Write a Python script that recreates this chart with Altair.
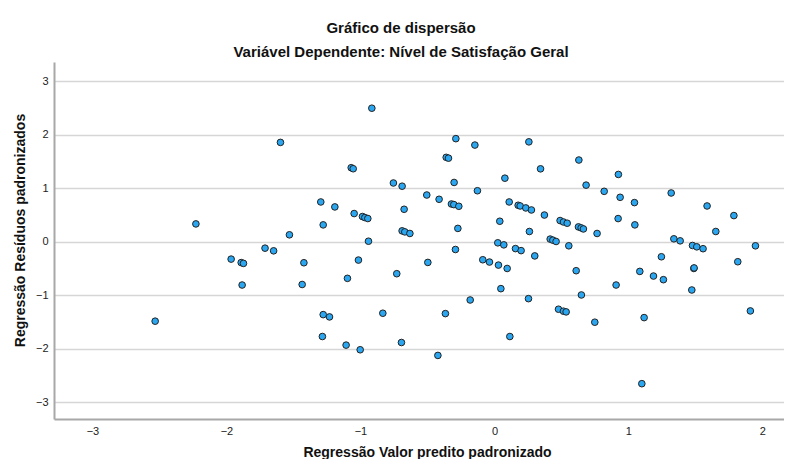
import altair as alt
import pandas as pd

x_vals = [-2.532, -2.228, -1.965, -1.890, -1.873, -1.883, -1.712, -1.648, -1.597, -1.530,
          -1.435, -1.422, -1.296, -1.278, -1.278, -1.231, -1.284, -1.191, -1.107, -1.097,
          -1.069, -1.054, -1.047, -1.015, -1.002, -0.985, -0.967, -0.945, -0.940, -0.915,
          -0.833, -0.754, -0.729, -0.694, -0.689, -0.674, -0.689, -0.669, -0.631, -0.505,
          -0.497, -0.422, -0.413, -0.366, -0.360, -0.343, -0.321, -0.303, -0.301, -0.288,
          -0.291, -0.273, -0.266, -0.181, -0.146, -0.127, -0.087, -0.037, 0.025, 0.030,
          0.040, 0.048, 0.070, 0.078, 0.095, 0.110, 0.115, 0.157, 0.199, 0.177,
          0.192, 0.234, 0.257, 0.254, 0.261, 0.276, 0.301, 0.344, 0.373, 0.416,
          0.436, 0.460, 0.478, 0.490, 0.515, 0.515, 0.535, 0.543, 0.555, 0.610,
          0.627, 0.630, 0.647, 0.649, 0.664, 0.684, 0.749, 0.766, 0.819, 0.908,
          0.923, 0.925, 0.938, 1.045, 1.048, 1.085, 1.100, 1.117, 1.187, 1.246,
          1.261, 1.319, 1.339, 1.386, 1.473, 1.478, 1.488, 1.490, 1.510, 1.557,
          1.587, 1.652, 1.787, 1.816, 1.910, 1.948]

y_vals = [-1.487, 0.334, -0.325, -0.390, -0.405, -0.810, -0.120, -0.170, 1.860, 0.130,
          -0.800, -0.393, 0.745, 0.316, -1.364, -1.407, -1.774, 0.652, -1.935, -0.685,
          1.386, 1.367, 0.528, -0.343, -2.022, 0.472, 0.453, 0.435, 0.010, 2.500,
          -1.338, 1.100, -0.598, -1.886, 1.040, 0.608, 0.204, 0.185, 0.155, 0.875,
          -0.387, -2.128, 0.795, -1.345, 1.580, 1.565, 0.707, 0.696, 1.110, 1.930,
          -0.145, 0.250, 0.664, -1.090, 1.810, 0.955, -0.337, -0.380, -0.020, -0.437,
          0.384, -0.878, -0.058, 1.190, -0.500, 0.745, -1.774, -0.128, -0.166, 0.683,
          0.670, 0.633, 1.870, -1.065, 0.192, 0.595, -0.265, 1.365, 0.500, 0.050,
          0.030, 0.005, -1.263, 0.397, 0.370, -1.300, -1.313, 0.347, -0.076, -0.542,
          0.278, 1.530, 0.260, -0.996, 0.240, 1.060, -1.506, 0.155, 0.944, -0.810,
          0.434, 1.260, 0.832, 0.733, 0.316, -0.555, -2.657, -1.420, -0.642, -0.281,
          -0.710, 0.913, 0.055, 0.017, -0.903, -0.070, -0.500, -0.490, -0.095, -0.130,
          0.670, 0.192, 0.490, -0.374, -1.295, -0.076]

x_ticks = [-3, -2, -1, 0, 1, 2]
y_ticks = [-3, -2, -1, 0, 1, 2, 3]

df = pd.DataFrame({"pred": x_vals, "resid": y_vals})

FONT = "Liberation Sans"
W, H = 730, 357

chart = alt.Chart(df).mark_circle(
    size=44, fill="#2ba6f0", stroke="#222222", strokeWidth=1, opacity=1
).encode(
    x=alt.X("pred:Q",
            scale=alt.Scale(domain=[-3.287, 2.161], nice=False, zero=False),
            axis=alt.Axis(values=x_ticks, grid=False, ticks=False,
                          domainColor="#a8a8a8", domainWidth=2,
                          labelFont=FONT, labelFontSize=11, labelColor="#222222",
                          labelPadding=6,
                          title="Regressão Valor predito padronizado",
                          titleFont=FONT, titleFontSize=14, titleFontWeight="bold",
                          titleColor="#111111",
                          titleX=373, titleY=33, titleAlign="center",
                          titleBaseline="middle")),
    y=alt.Y("resid:Q",
            scale=alt.Scale(domain=[-3.318, 3.365], nice=False, zero=False),
            axis=alt.Axis(values=y_ticks, grid=True, ticks=False,
                          gridColor="#d6d6d6", gridWidth=1.5,
                          domainColor="#a8a8a8", domainWidth=2,
                          labelFont=FONT, labelFontSize=11, labelColor="#222222",
                          labelPadding=6,
                          title="Regressão Resíduos padronizados",
                          titleFont=FONT, titleFontSize=14, titleFontWeight="bold",
                          titleColor="#111111",
                          titleX=-34, titleY=168, titleAngle=-90,
                          titleAlign="center", titleBaseline="middle")),
).properties(
    width=W, height=H,
    autosize=alt.AutoSizeParams(type="none"),
    padding={"left": 46, "top": 54, "right": 0, "bottom": 40},
    title=alt.TitleParams(
        text="Gráfico de dispersão",
        subtitle="Variável Dependente: Nível de Satisfação Geral",
        font=FONT, fontSize=15, fontWeight="bold", color="#111111",
        subtitleFont=FONT, subtitleFontSize=15, subtitleFontWeight="bold",
        subtitleColor="#111111",
        subtitlePadding=9, offset=2, anchor="middle", dx=-18,
    ),
).configure_view(stroke=None)

chart.save("out.html", embed_options={"renderer": "svg", "actions": False})
